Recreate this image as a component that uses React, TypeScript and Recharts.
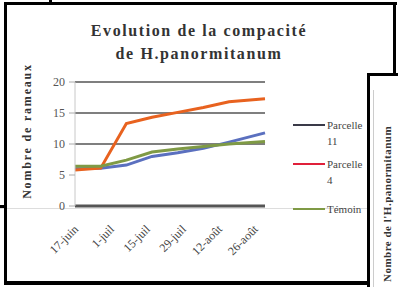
import { LineChart, Line, XAxis, YAxis, ReferenceLine } from "recharts";

// jours depuis le 17 juin (relevés)
const days = [0, 10, 20, 30, 40, 50, 60, 74];
const parcelle11 = [6.0, 6.1, 6.6, 8.0, 8.6, 9.3, 10.3, 11.8];
const parcelle4 = [5.8, 6.1, 13.3, 14.3, 15.1, 15.9, 16.8, 17.3];
const temoin = [6.4, 6.4, 7.4, 8.7, 9.2, 9.6, 10.0, 10.4];

const tickDays = [0, 14, 28, 42, 56, 70];
const tickLabels = ["17-juin", "1-juil", "15-juil", "29-juil", "12-août", "26-août"];
const yTicks = [0, 5, 10, 15, 20];
const gridValues = [10, 15, 20];

const series = [
  { key: "p11", name: "Parcelle 11", color: "#5b70bf", legendColor: "#3a3a48" },
  { key: "p4", name: "Parcelle 4", color: "#e8621f", legendColor: "#e0203a" },
  { key: "tem", name: "Témoin", color: "#7f9a45", legendColor: "#7f9a45" },
];

const data = days.map((d, i) => ({
  day: d,
  p11: parcelle11[i],
  p4: parcelle4[i],
  tem: temoin[i],
}));

const serif = "'Liberation Serif', 'DejaVu Serif', serif";

const DateTick = (props: any) => {
  const { x, y, payload } = props;
  const idx = tickDays.indexOf(payload.value);
  return (
    <g transform={`translate(${x + 4},${y + 22})`}>
      <text
        textAnchor="end"
        transform="rotate(-45)"
        fontFamily={serif}
        fontSize={12}
        fill="#444">
        {tickLabels[idx]}
      </text>
    </g>
  );
};

const bar = (s: React.CSSProperties): React.CSSProperties => ({
  position: "absolute",
  background: "#000",
  ...s,
});

export default function App() {
  return (
    <div
      style={{
        position: "fixed",
        left: 0,
        top: 0,
        width: 398,
        height: 287,
        background: "#fff",
        overflow: "hidden",
        fontFamily: serif,
      }}>
      {/* faint scan line */}
      <div style={{ position: "absolute", left: 0, top: 208, width: 398, height: 1, background: "#ddd" }} />

      {/* title */}
      <div
        style={{
          position: "absolute",
          left: 0,
          top: 19,
          width: 398,
          textAlign: "center",
          fontWeight: "bold",
          fontSize: 16,
          letterSpacing: 1.6,
          lineHeight: "23px",
          color: "#333",
        }}>
        Evolution de la compacité
        <br />
        de H.panormitanum
      </div>

      {/* y axis label */}
      <div
        style={{
          position: "absolute",
          left: 27,
          top: 131,
          transform: "translate(-50%, -50%) rotate(-90deg)",
          whiteSpace: "nowrap",
          fontSize: 12,
          fontWeight: "bold",
          letterSpacing: 1.8,
          color: "#333",
        }}>
        Nombre de rameaux
      </div>

      <div style={{ position: "absolute", left: 0, top: 0 }}>
        <LineChart
          width={370}
          height={287}
          data={data}
          margin={{ top: 82, right: 105, bottom: 21, left: 0 }}>
          {gridValues.map((v) => (
            <ReferenceLine key={v} y={v} stroke="#555" strokeWidth={1.5} />
          ))}
          <XAxis
            dataKey="day"
            type="number"
            domain={[0, 74]}
            ticks={tickDays}
            tick={<DateTick />}
            tickLine={false}
            tickSize={0}
            height={60}
            axisLine={{ stroke: "#555", strokeWidth: 3 }}
            interval={0}
          />
          <YAxis
            domain={[0, 20]}
            ticks={yTicks}
            width={75}
            tickSize={6}
            tickMargin={4}
            axisLine={{ stroke: "#c8c8c8" }}
            tickLine={{ stroke: "#aaa" }}
            tick={{ fontFamily: serif, fontSize: 12, fill: "#555" }}
          />
          {series.map((s) => (
            <Line
              key={s.key}
              dataKey={s.key}
              name={s.name}
              stroke={s.color}
              strokeWidth={3}
              dot={false}
              type="linear"
              isAnimationActive={false}
            />
          ))}
        </LineChart>
      </div>

      {/* legend */}
      {series.map((s, i) => {
        const top = [117, 156, 201][i];
        const parts = s.name.split(" ");
        return (
          <div key={s.key} style={{ position: "absolute", left: 293, top, fontSize: 11, color: "#444" }}>
            <div style={{ position: "absolute", left: 0, top: 7, width: 32, height: 2, background: s.legendColor }} />
            <div style={{ position: "absolute", left: 34, top: 0, lineHeight: "16px", whiteSpace: "nowrap" }}>
              {parts[0]}
              {parts[1] ? (
                <>
                  <br />
                  {parts[1]}
                </>
              ) : null}
            </div>
          </div>
        );
      })}

      {/* right panel of the next figure */}
      <div style={{ position: "absolute", left: 370, top: 76, width: 28, height: 211, background: "#fff" }}>
        <div style={{ position: "absolute", left: 3, top: 14, width: 1, height: 197, background: "#ccc" }} />
        <div
          style={{
            position: "absolute",
            left: 17,
            top: 128,
            transform: "translate(-50%, -50%) rotate(-90deg)",
            whiteSpace: "nowrap",
            fontSize: 11,
            fontWeight: "bold",
            letterSpacing: 0.5,
            color: "#333",
          }}>
          Nombre de l'H.panormitanum
        </div>
      </div>

      {/* frame lines */}
      <div style={bar({ left: 4, top: 2, width: 393, height: 3 })} />
      <div style={bar({ left: 4, top: 2, width: 3, height: 283 })} />
      <div style={bar({ left: 393, top: 2, width: 3, height: 74 })} />
      <div style={bar({ left: 367, top: 73, width: 31, height: 3 })} />
      <div style={bar({ left: 367, top: 73, width: 3, height: 214 })} />
      <div style={bar({ left: 4, top: 281, width: 366, height: 4 })} />
      <div style={bar({ left: 49, top: 0, width: 3, height: 3 })} />
      <div style={bar({ left: 0, top: 205, width: 5, height: 3 })} />
    </div>
  );
}
